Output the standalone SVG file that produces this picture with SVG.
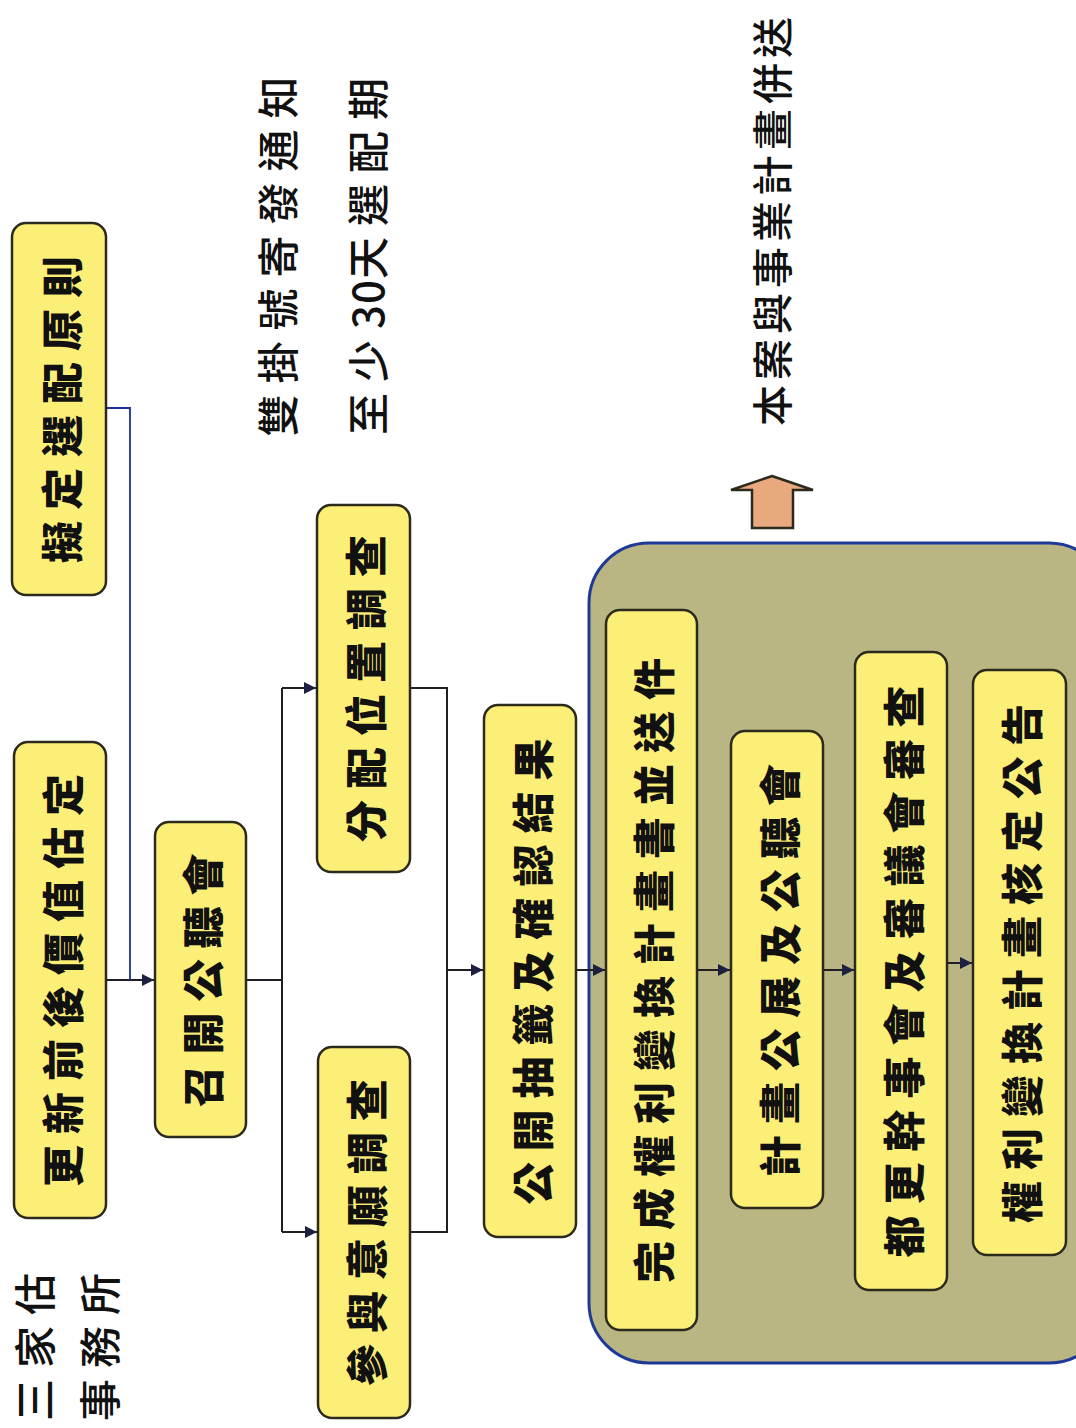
<svg xmlns="http://www.w3.org/2000/svg" width="1076" height="1428" viewBox="0 0 1076 1428">
<defs>
<style>
.box{fill:#fcef78;stroke:#2b2a1c;stroke-width:2.5}
.bt{font-family:"Noto Sans CJK TC","Noto Sans CJK SC",sans-serif;font-weight:900;font-size:42px;letter-spacing:11px;fill:#111;text-anchor:middle;dominant-baseline:central}
.nt{font-family:"Noto Sans CJK TC","Noto Sans CJK SC",sans-serif;font-weight:500;font-size:42px;letter-spacing:11px;fill:#111;text-anchor:middle;dominant-baseline:central}
.ln{fill:none;stroke:#1e1e24;stroke-width:2}
.bl{fill:none;stroke:#1c2f9a;stroke-width:1.8}
</style>
<marker id="ah" viewBox="0 0 10 10" refX="10" refY="5" markerWidth="13" markerHeight="12" markerUnits="userSpaceOnUse" orient="auto">
<path d="M0,0 L10,5 L0,10 z" fill="#1e2040"/>
</marker>
</defs>
<rect width="1076" height="1428" fill="#ffffff"/>

<g id="container">
<rect x="589" y="543" width="520" height="820" rx="60" ry="60" fill="#b9b684" stroke="#1f3a96" stroke-width="3"/>
</g>

<g id="connectors">
<path class="ln" d="M106,980 H154" marker-end="url(#ah)"/>
<path class="bl" d="M106,408 H130 V980"/>
<path class="ln" d="M246,980 H282"/>
<path class="ln" d="M282,688 V1232"/>
<path class="ln" d="M282,688 H316" marker-end="url(#ah)"/>
<path class="ln" d="M282,1232 H317" marker-end="url(#ah)"/>
<path class="ln" d="M410,688 H447 V1232 H410"/>
<path class="ln" d="M447,970 H483" marker-end="url(#ah)"/>
<path class="ln" d="M576,970 H605" marker-end="url(#ah)"/>
<path class="ln" d="M697,970 H730" marker-end="url(#ah)"/>
<path class="ln" d="M823,970 H854" marker-end="url(#ah)"/>
<path class="ln" d="M947,963 H972" marker-end="url(#ah)"/>
</g>

<g id="up-arrow">
<path d="M772,476 L813,490 L793,490 L793,528 L752,528 L752,490 L731,490 Z" fill="#e8a97f" stroke="#2b2a1c" stroke-width="2.5" stroke-linejoin="miter"/>
</g>

<g id="n1"><rect class="box" x="14" y="742" width="92" height="476" rx="14"/>
<text class="bt" transform="translate(60,980) rotate(-90)" x="5">更新前後價值估定</text></g>
<g id="n2"><rect class="box" x="12" y="223" width="94" height="372" rx="14"/>
<text class="bt" transform="translate(59,409) rotate(-90)" x="5">擬定選配原則</text></g>
<g id="n3"><rect class="box" x="155" y="822" width="91" height="315" rx="14"/>
<text class="bt" transform="translate(200,980) rotate(-90)" x="5">召開公聽會</text></g>
<g id="n4"><rect class="box" x="317" y="505" width="93" height="367" rx="14"/>
<text class="bt" transform="translate(363,688) rotate(-90)" x="5">分配位置調查</text></g>
<g id="n5"><rect class="box" x="318" y="1047" width="92" height="371" rx="14"/>
<text class="bt" transform="translate(364,1232) rotate(-90)" x="5">參與意願調查</text></g>
<g id="n6"><rect class="box" x="484" y="705" width="92" height="532" rx="14"/>
<text class="bt" transform="translate(530,971) rotate(-90)" x="5">公開抽籤及確認結果</text></g>
<g id="n7"><rect class="box" x="606" y="610" width="91" height="720" rx="14"/>
<text class="bt" transform="translate(651,970) rotate(-90)" x="5">完成權利變換計畫書並送件</text></g>
<g id="n8"><rect class="box" x="731" y="731" width="92" height="477" rx="14"/>
<text class="bt" transform="translate(777,970) rotate(-90)" x="5">計畫公展及公聽會</text></g>
<g id="n9"><rect class="box" x="855" y="652" width="92" height="638" rx="14"/>
<text class="bt" transform="translate(901,971) rotate(-90)" x="5">都更幹事會及審議會審查</text></g>
<g id="n10"><rect class="box" x="973" y="670" width="93" height="585" rx="14"/>
<text class="bt" transform="translate(1019,963) rotate(-90)" x="5">權利變換計畫核定公告</text></g>

<g id="notes">
<text class="nt" transform="translate(275,256) rotate(-90)" x="5">雙掛號寄發通知</text>
<text class="nt" transform="translate(365,256) rotate(-90)" x="5">至少<tspan style="letter-spacing:1px">30</tspan>天選配期</text>
<text class="nt" transform="translate(770,222) rotate(-90)" x="3" style="letter-spacing:5px;font-size:41px">本案與事業計畫併送</text>
<text class="nt" transform="translate(32,1262) rotate(-90)" style="text-anchor:end">三家估</text>
<text class="nt" transform="translate(97,1262) rotate(-90)" style="text-anchor:end">事務所</text>
</g>
</svg>
